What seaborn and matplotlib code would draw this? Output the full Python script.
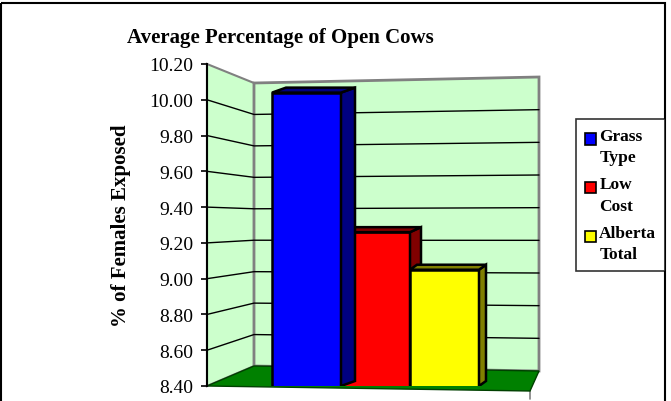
import numpy as np
import pandas as pd
import matplotlib
matplotlib.use("Agg")
import matplotlib.pyplot as plt
import matplotlib.transforms as mtransforms
from matplotlib.patches import Polygon, Rectangle
from matplotlib.legend_handler import HandlerPatch
import seaborn as sns

# --- data ---
series = ["Grass Type", "Low Cost", "Alberta Total"]
values = [10.04, 9.26, 9.05]
yticks = [8.40, 8.60, 8.80, 9.00, 9.20, 9.40, 9.60, 9.80, 10.00, 10.20]

# --- style ---
front_cols = ["#0000FF", "#FF0000", "#FFFF00"]
side_cols = ["#000080", "#800000", "#808000"]
wall_col = "#CCFFCC"
floor_col = "#008000"
depth_px = [14, 11, 7]
bar_z = [5, 3, 4]

sns.set_style("white")
plt.rcParams["font.family"] = ["Liberation Serif", "DejaVu Serif"]
plt.rcParams["text.color"] = "black"

W, H = 671, 402
fig = plt.figure(figsize=(W / 100, H / 100), dpi=100)
# pixel coordinates (origin top-left) for the decorative walls
pix = mtransforms.Affine2D().scale(1 / W, -1 / H).translate(0, 1) + fig.transFigure

# front plane of the chart
ax_l, ax_r, ax_t, ax_b = 207, 539, 65, 387
ax = fig.add_axes([ax_l / W, 1 - ax_b / H, (ax_r - ax_l) / W, (ax_b - ax_t) / H])
ax.patch.set_visible(False)
ax.set_zorder(2)

df = pd.DataFrame({"grp": [""] * len(series), "series": series, "value": values})
sns.barplot(data=df, x="grp", y="value", hue="series", hue_order=series,
            palette=front_cols, saturation=1, width=0.8, edgecolor="black",
            linewidth=1.8, ax=ax)

ymin, ymax = yticks[0], yticks[-1]
ax.set_ylim(ymin, ymax)
bar_l, bar_r = 272, 479
ppu = (bar_r - bar_l) / 0.8
cx = (bar_l + bar_r) / 2
ax.set_xlim((ax_l - cx) / ppu, (ax_r - cx) / ppu)
ppy = (ax_b - ax_t) / (ymax - ymin)

# --- walls & floor (oblique 3D look) ---
def back_y(f, side):
    # back wall y pixel at fraction f of the value range
    return 367 - f * 283 if side == "l" else 372 - f * 294

fig.patches.append(Polygon([(207, 65), (254, 84), (254, 367), (207, 387)],
                           closed=True, transform=pix, facecolor=wall_col,
                           edgecolor="#808080", lw=1.5, zorder=0))
fig.patches.append(Polygon([(254, 84), (539, 78), (539, 372), (254, 367)],
                           closed=True, transform=pix, facecolor=wall_col,
                           edgecolor="#808080", lw=2, zorder=0))
for v in yticks[1:-1]:
    f = (v - ymin) / (ymax - ymin)
    yf = ax_b - f * (ax_b - ax_t)
    fig.lines.append(plt.Line2D([207, 254, 539], [yf, back_y(f, "l"), back_y(f, "r")],
                                transform=pix, color="black", lw=1, zorder=0.5))
fig.patches.append(Polygon([(207, 387), (254, 367), (539, 372), (530, 392)],
                           closed=True, transform=pix, facecolor=floor_col,
                           edgecolor="#004000", lw=1, zorder=0.6))
fig.lines.append(plt.Line2D([530, 530], [392, 400], transform=pix,
                            color="#808080", lw=1.2, zorder=0.6))

# --- 3D faces of the bars ---
for i, p in enumerate(ax.patches[:len(series)]):
    x0, x1 = p.get_x(), p.get_x() + p.get_width()
    top = p.get_y() + p.get_height()
    bot = max(p.get_y(), ymin)
    dx, dy = depth_px[i] / ppu, 5 / ppy
    p.set_zorder(bar_z[i])
    ax.add_patch(Polygon([(x1, top), (x1 + dx, top + dy), (x1 + dx, bot + dy), (x1, bot)],
                         closed=True, facecolor=side_cols[i], edgecolor="black",
                         lw=1.8, zorder=bar_z[i]))
    ax.add_patch(Polygon([(x0, top), (x0 + dx, top + dy), (x1 + dx, top + dy), (x1, top)],
                         closed=True, facecolor=side_cols[i], edgecolor="black",
                         lw=1.8, zorder=bar_z[i]))

# --- axes ---
for s in ["top", "right", "bottom"]:
    ax.spines[s].set_visible(False)
ax.spines["left"].set_color("black")
ax.spines["left"].set_linewidth(1.5)
ax.spines["left"].set_zorder(6)
ax.set_yticks(yticks)
ax.set_yticklabels([f"{v:.2f}" for v in yticks])
ax.tick_params(axis="y", left=True, length=4, width=1.2, pad=6, labelsize=14,
               colors="black")
ax.set_xticks([])
ax.set_xlabel("")
ax.set_ylabel("")

fig.text(121 / W, 1 - 226 / H, "% of Females Exposed", rotation=90, ha="center",
         va="center", fontsize=15, fontweight="bold", color="black")
fig.text(280 / W, 1 - 43 / H, "Average Percentage of Open Cows", ha="center",
         va="baseline", fontsize=15, fontweight="bold", color="black")


# legend: small square aligned with the first text line
def top_square(legend, orig_handle, xdescent, ydescent, width, height, fontsize):
    return Rectangle((-xdescent, -ydescent + height - width), width, width)


handles, labels = ax.get_legend_handles_labels()
ax.get_legend().remove()
leg = fig.legend(handles, [l.replace(" ", "\n") for l in labels], loc="upper right",
                 bbox_to_anchor=(665 / W, 1 - 120 / H), frameon=True, fancybox=False,
                 edgecolor="black", handlelength=0.65, handleheight=2.0,
                 handletextpad=0.2, labelspacing=0.65, borderpad=0.5,
                 borderaxespad=0, prop={"weight": "bold", "size": 12.5},
                 handler_map={h: HandlerPatch(patch_func=top_square) for h in handles})
leg.get_frame().set_linewidth(1.2)
leg.set_zorder(4)
for t in leg.get_texts():
    t.set_linespacing(1.45)
for h in leg.legend_handles:
    h.set_edgecolor("black")
    h.set_linewidth(1.2)

# chart frame
fig.patches.append(Rectangle((1, 4), 664, 420, transform=pix, fill=False,
                             edgecolor="black", lw=1.5, zorder=3))

fig.savefig("out.png", dpi=100)
